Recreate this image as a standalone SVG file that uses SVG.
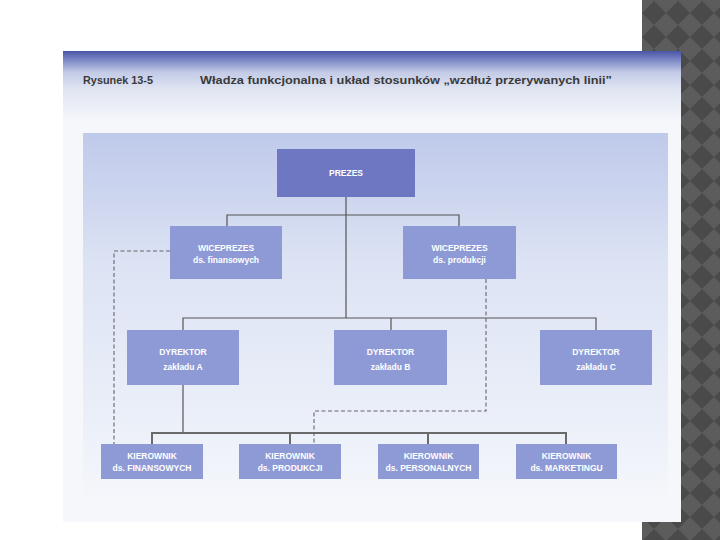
<svg xmlns="http://www.w3.org/2000/svg" width="720" height="540" viewBox="0 0 720 540">
<defs>
<pattern id="chk" patternUnits="userSpaceOnUse" x="642" y="1" width="24" height="24">
<rect width="24" height="24" fill="#5c5c5c"/>
<polygon points="12,0 24,12 12,24 0,12" fill="#4a4a4a"/>
</pattern>
<linearGradient id="hdr" x1="0" y1="0" x2="0" y2="1">
<stop offset="0" stop-color="#4a55a5"/>
<stop offset="0.12" stop-color="#7884c4"/>
<stop offset="0.3" stop-color="#c2cae6"/>
<stop offset="0.55" stop-color="#e0e5f2"/>
<stop offset="1" stop-color="#f6f7fb"/>
</linearGradient>
<linearGradient id="pnl" x1="0" y1="0" x2="0" y2="1">
<stop offset="0" stop-color="#bfc9ea"/>
<stop offset="0.35" stop-color="#dce3f4"/>
<stop offset="0.8" stop-color="#ecf0f9"/>
<stop offset="1" stop-color="#f5f7fb"/>
</linearGradient>
<style>
.n1{fill:#6e77c2}
.n2{fill:#8d9ad6}
.t{font-family:"Liberation Sans",Arial,sans-serif;font-weight:bold;font-size:8.5px;fill:#ffffff;text-anchor:middle}
.ln{stroke:#555;stroke-width:1.2;fill:none}
.lm{stroke:#6a6a6a;stroke-width:2;fill:none}
.ds{stroke:#666;stroke-width:1.1;fill:none;stroke-dasharray:4 2.5}
.ti{font-family:"Liberation Sans",Arial,sans-serif;font-weight:bold;font-size:11.5px;fill:#3a3a3a}
</style>
</defs>
<rect width="720" height="540" fill="#ffffff"/>
<rect x="642" y="0" width="78" height="540" fill="url(#chk)"/>
<rect x="63" y="51" width="618" height="471" fill="#f6f7fb"/>
<rect x="63" y="51" width="618" height="70" fill="url(#hdr)"/>
<rect x="83" y="133" width="585" height="370" fill="url(#pnl)"/>
<text class="ti" x="83" y="84" textLength="70" lengthAdjust="spacingAndGlyphs">Rysunek 13-5</text>
<text class="ti" x="200" y="84" textLength="412" lengthAdjust="spacingAndGlyphs">Władza funkcjonalna i układ stosunków „wzdłuż przerywanych linii”</text>
<g id="connectors">
<path class="ln" d="M346,197 V318 M227,226 V215 H459 V226 M183,330 V318 H596 V330 M391,318 V330 M183,385 V433"/>
<path class="lm" d="M152,444 V433 H566 V444 M290,433 V444 M428,433 V444"/>
<path class="ds" d="M170,251 H114 V444"/>
<path class="ds" d="M486,279 V411 H314 V444"/>
</g>
<g id="prezes"><rect class="n1" x="277" y="149" width="138" height="48"/><text class="t" x="346" y="176">PREZES</text></g>
<g id="vp-fin"><rect class="n2" x="170" y="226" width="112" height="53"/><text class="t" x="226" y="251">WICEPREZES</text><text class="t" x="226" y="263" font-size="8">ds. finansowych</text></g>
<g id="vp-prod"><rect class="n2" x="403" y="226" width="113" height="53"/><text class="t" x="459.5" y="251">WICEPREZES</text><text class="t" x="459.5" y="263" font-size="8">ds. produkcji</text></g>
<g id="dyr-a"><rect class="n2" x="127" y="330" width="112" height="55"/><text class="t" x="183" y="355">DYREKTOR</text><text class="t" x="183" y="370" font-size="8">zakładu A</text></g>
<g id="dyr-b"><rect class="n2" x="334" y="330" width="113" height="55"/><text class="t" x="390.5" y="355">DYREKTOR</text><text class="t" x="390.5" y="370" font-size="8">zakładu B</text></g>
<g id="dyr-c"><rect class="n2" x="540" y="330" width="112" height="55"/><text class="t" x="596" y="355">DYREKTOR</text><text class="t" x="596" y="370" font-size="8">zakładu C</text></g>
<g id="kier-fin"><rect class="n2" x="101" y="444" width="102" height="35"/><text class="t" x="152" y="459">KIEROWNIK</text><text class="t" x="152" y="471">ds. FINANSOWYCH</text></g>
<g id="kier-prod"><rect class="n2" x="239" y="444" width="102" height="35"/><text class="t" x="290" y="459">KIEROWNIK</text><text class="t" x="290" y="471">ds. PRODUKCJI</text></g>
<g id="kier-pers"><rect class="n2" x="378" y="444" width="101" height="35"/><text class="t" x="428.5" y="459">KIEROWNIK</text><text class="t" x="428.5" y="471">ds. PERSONALNYCH</text></g>
<g id="kier-mark"><rect class="n2" x="516" y="444" width="101" height="35"/><text class="t" x="566.5" y="459">KIEROWNIK</text><text class="t" x="566.5" y="471">ds. MARKETINGU</text></g>
</svg>
